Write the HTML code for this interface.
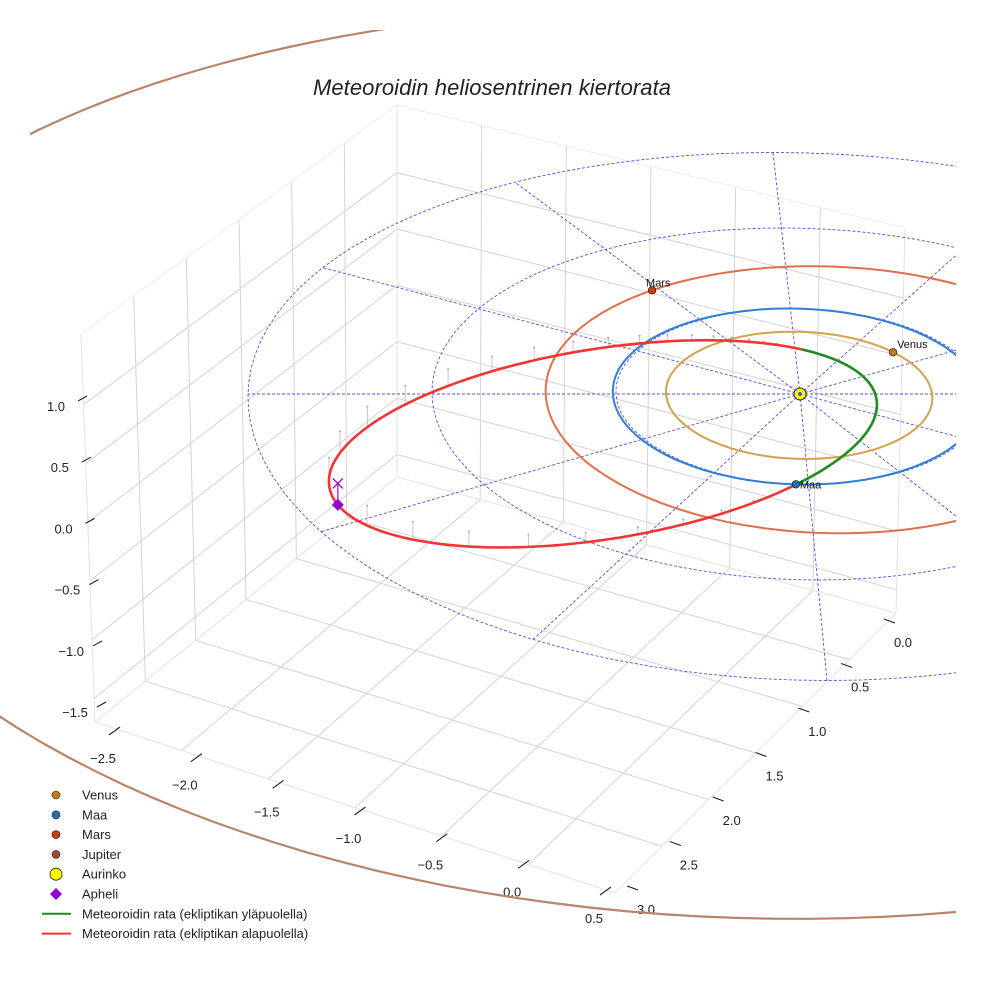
<!DOCTYPE html>
<html><head><meta charset="utf-8"><style>
html,body{margin:0;padding:0;background:#fff;}
svg{display:block;font-family:"Liberation Sans","DejaVu Sans",sans-serif;}
</style></head><body>
<svg id="chart" width="984" height="984" viewBox="0 0 984 984">
<defs><clipPath id="plotclip"><polygon points="30,30 956,30 956,984 0,984 0,500 30,500"/></clipPath></defs>
<rect width="984" height="984" fill="#fff"/>
<g id="grid"></g>
<g id="ticks"></g>
<g id="plot" clip-path="url(#plotclip)"></g>
<text x="492" y="95" text-anchor="middle" font-size="22" font-style="italic" fill="#222" textLength="358">Meteoroidin heliosentrinen kiertorata</text>
<g id="legend"></g>
</svg>
<script>
// ---- data ----
const xTicks = [-2.5, -2.0, -1.5, -1.0, -0.5, 0.0, 0.5];
const yTicks = [0.0, 0.5, 1.0, 1.5, 2.0, 2.5, 3.0];
const zTicks = [-1.5, -1.0, -0.5, 0.0, 0.5, 1.0];
const planetNames = ["Venus", "Maa", "Mars", "Jupiter"];
const planetA = [0.723, 1.0, 1.524, 5.203];
const planetE = [0.007, 0.017, 0.093, 0.048];
const planetPeriAngle = [0, 0, 180, 0];
const planetAngle = [-42, 94, -122, null];
const ringRadii = [1, 2, 3];
const radialAngles = [0, 30, 60, 90, 120, 150, 180, 210, 240, 270, 300, 330];
const meteorP = 0.68;
const meteorE = 0.748;
const meteorPeri = -21.5;
const meteorAscNode = -64.8;
const meteorSinI = 0.076;

const NS = "http://www.w3.org/2000/svg";
function mk(tag, attrs, parent){ const e=document.createElementNS(NS,tag); for(const k in attrs) e.setAttribute(k,attrs[k]); parent.appendChild(e); return e; }
const rad = d => d*Math.PI/180;
function proj(u,v,z){ return [800 + 184*u*(1+0.02*v) + 9*v, 394 + 88*v + 2.5*v*v - 115*z]; }

// ---- axis box (structure) ----
const A0=[95,722],A1=[81,334],B0=[397,477],B1=[397,105],C0=[896,613],C1=[905,228],D0=[615,893];
const zMin=-1.7, zMax=1.6;
const lerp=(p,q,t)=>[p[0]+(q[0]-p[0])*t,p[1]+(q[1]-p[1])*t];
function wallL(y,z){const t=(3-y)/3, s=(z-zMin)/(zMax-zMin); return lerp(lerp(A0,B0,t),lerp(A1,B1,t),s);}
function wallR(x,z){const t=(x+2.5)/3, s=(z-zMin)/(zMax-zMin); return lerp(lerp(B0,C0,t),lerp(B1,C1,t),s);}
function floorP(x,y){const t=(x+2.5)/3, s=(3-y)/3; return lerp(lerp(A0,D0,t),lerp(B0,C0,t),s);}
const grid=document.getElementById('grid');
function gl(p,q,c,w){ const l=mk('line',{x1:p[0],y1:p[1],x2:q[0],y2:q[1],stroke:c,'stroke-width':w},grid);
   }
const gc='#d3d3d3';
[0.5,1,1.5,2,2.5].forEach(y=>{gl(wallL(y,zMin),wallL(y,zMax),gc,1); gl(floorP(-2.5,y),floorP(0.5,y),gc,1);});
[-2,-1.5,-1,-0.5,0].forEach(x=>{gl(wallR(x,zMin),wallR(x,zMax),gc,1); gl(floorP(x,3),floorP(x,0),gc,1);});
zTicks.forEach(z=>{gl(wallL(3,z),wallL(0,z),gc,1); gl(wallR(-2.5,z),wallR(0.5,z),gc,1);});
gl(A0,A1,'#e2e2e2',1);gl(B0,B1,'#e2e2e2',1);gl(C0,C1,'#e2e2e2',1);gl(A1,B1,'#ececec',1);gl(B1,C1,'#ececec',1);
gl(A0,B0,'#e2e2e2',1);gl(B0,C0,'#e2e2e2',1);gl(A0,D0,'#e2e2e2',1);gl(D0,C0,'#e2e2e2',1);

// ---- ticks ----
const tk=document.getElementById('ticks');
function tick(lab,lx,ly,d1,d2,name){
 const l=mk('line',{x1:lx+d1[0],y1:ly+d1[1],x2:lx+d2[0],y2:ly+d2[1],stroke:'#222','stroke-width':1.1},tk);
  
 const t=mk('text',{x:lx,y:ly+5,'text-anchor':'middle','font-size':13,fill:'#222'},tk);
 t.textContent=lab.toFixed(1).replace('-','\u2212');
  
}
xTicks.forEach(v=>{const t=(v+2.5)/3; tick(v,103+491*t,758+160*t,[6,-23],[17,-31],'x-axis');});
yTicks.forEach(v=>{const t=v/3; tick(v,903-257*t,642+267*t,[-19,-23],[-8,-19],'y-axis');});
zTicks.forEach(v=>{const t=(1.0-v)/2.5; tick(v,56+19*t,406+306*t,[22,-5],[31,-10],'z-axis');});

// ---- plot ----
const plot=document.getElementById('plot');
function pathFrom(pts){return 'M'+pts.map(p=>p[0].toFixed(1)+','+p[1].toFixed(1)).join('L');}
ringRadii.forEach(r=>{const pts=[];for(let a=0;a<=360;a+=3)pts.push(proj(r*Math.cos(rad(a)),r*Math.sin(rad(a)),0));
 const p=mk('path',{d:pathFrom(pts),fill:'none',stroke:'#5050e0','stroke-width':0.9,'stroke-dasharray':'3,2'},plot);
  });
const rMax=ringRadii[ringRadii.length-1];
radialAngles.forEach(a=>{const p0=proj(0,0,0),p1=proj(rMax*Math.cos(rad(a)),rMax*Math.sin(rad(a)),0);
 const l=mk('line',{x1:p0[0],y1:p0[1],x2:p1[0],y2:p1[1],stroke:'#5050e0','stroke-width':0.9,'stroke-dasharray':'3,2'},plot);
  });
const orbitColors=['#d4a24e','#2f7fd6','#e0704a','#b98469'];
const markerColors=['#c27a12','#1f6fb0','#cc3d0e','#9a5030'];
function planetPos(i,ang){const a=planetA[i],e=planetE[i],f=rad(ang-planetPeriAngle[i]);const r=a*(1-e*e)/(1+e*Math.cos(f));
 return [r*Math.cos(rad(ang)),r*Math.sin(rad(ang))];}
planetNames.forEach((n,i)=>{const pts=[];for(let a=0;a<=360;a+=2){const q=planetPos(i,a);pts.push(proj(q[0],q[1],0));}
 const p=mk('path',{d:pathFrom(pts),fill:'none',stroke:orbitColors[i],'stroke-width':i==3?2.2:2},plot);
  });
function meteor(f){const r=meteorP/(1+meteorE*Math.cos(rad(f)));const ang=rad(f+meteorPeri);
 return [r*Math.cos(ang),r*Math.sin(ang),r*meteorSinI*Math.sin(rad(f-meteorAscNode))];}
for(let f=-180;f<180;f+=6){const m=meteor(f);if(m[2]>=0)continue;const p0=proj(m[0],m[1],m[2]),p1=proj(m[0],m[1],0);
 const l=mk('line',{x1:p0[0],y1:p0[1],x2:p1[0],y2:p1[1],stroke:'#bbb','stroke-width':0.8},plot);
  
 const c=mk('circle',{cx:p1[0],cy:p1[1],r:1,fill:'#aaa'},plot);
  }
const above=[],below=[];
for(let f=meteorAscNode;f<=meteorAscNode+360;f+=1){const m=meteor(f);const p=proj(m[0],m[1],m[2]);(m[2]>=0?above:below).push(p);}
const gp=mk('path',{d:pathFrom(above),fill:'none',stroke:'#1e8c1e','stroke-width':2.6},plot);
 
const rp=mk('path',{d:pathFrom(below),fill:'none',stroke:'#f03535','stroke-width':2.6},plot);
 
const ap=meteor(180);const apS=proj(ap[0],ap[1],ap[2]),apP=proj(ap[0],ap[1],0);
const apl=mk('line',{x1:apS[0],y1:apS[1],x2:apP[0],y2:apP[1],stroke:'#b040c0','stroke-width':1.5},plot);
 
const xm=mk('path',{d:`M${apP[0]-5},${apP[1]-5}L${apP[0]+5},${apP[1]+5}M${apP[0]-5},${apP[1]+5}L${apP[0]+5},${apP[1]-5}`,stroke:'#9400d3','stroke-width':1.3,fill:'none'},plot);
 
const dm=mk('path',{d:`M${apS[0]},${apS[1]-6}L${apS[0]+6},${apS[1]}L${apS[0]},${apS[1]+6}L${apS[0]-6},${apS[1]}Z`,fill:'#9400d3'},plot);
 
planetNames.forEach((n,i)=>{if(planetAngle[i]===null)return;const q=planetPos(i,planetAngle[i]);const p=proj(q[0],q[1],0);
 const c=mk('circle',{cx:p[0],cy:p[1],r:3.8,fill:markerColors[i],stroke:'#222','stroke-width':0.7},plot);
  
 const t=mk('text',{x:p[0]+(i==2?-6:4),y:p[1]-(i==1?-4:4),'font-size':11,fill:'#111'},plot);t.textContent=n;
  });
const sp=proj(0,0,0);
const sc=mk('circle',{cx:sp[0],cy:sp[1],r:6,fill:'#ffff00',stroke:'#222','stroke-width':1},plot);
 
const sc2=mk('circle',{cx:sp[0],cy:sp[1],r:2,fill:'#3a5ad0'},plot);
 

// ---- legend ----
const lg=document.getElementById('legend');
const legendLabels=['Venus','Maa','Mars','Jupiter','Aurinko','Apheli','Meteoroidin rata (ekliptikan yläpuolella)','Meteoroidin rata (ekliptikan alapuolella)'];
legendLabels.forEach((lab,i)=>{const y=795+i*19.8;const g=mk('g',{},lg);
  
 if(i<4){mk('circle',{cx:56,cy:y,r:4,fill:markerColors[i],stroke:'#222','stroke-width':0.6},g);}
 else if(i==4){mk('circle',{cx:56,cy:y,r:6,fill:'#ffff00',stroke:'#222','stroke-width':0.8},g);}
 else if(i==5){mk('path',{d:`M56,${y-6}L62,${y}L56,${y+6}L50,${y}Z`,fill:'#9400d3'},g);}
 else {mk('line',{x1:42,y1:y,x2:71,y2:y,stroke:i==6?'#1e8c1e':'#f03535','stroke-width':2},g);}
 const t=mk('text',{x:82,y:y+4.5,'font-size':13,fill:'#222'},g);t.textContent=lab;});
</script>
</body></html>
